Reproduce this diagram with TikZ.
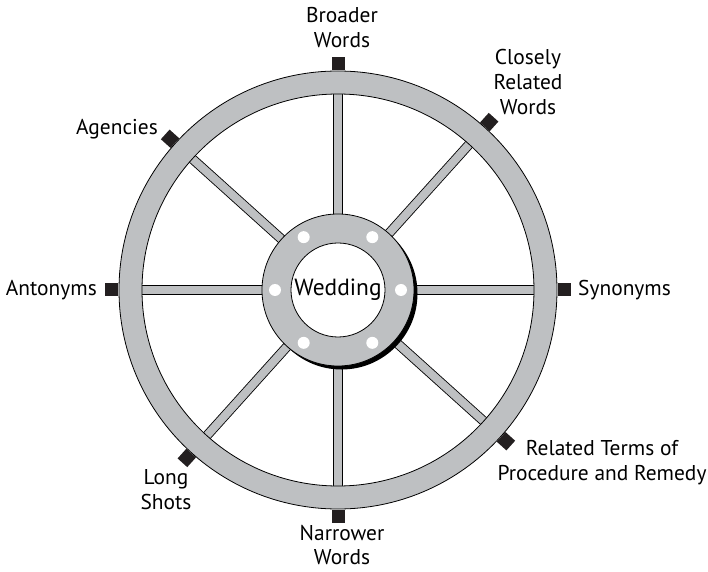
\documentclass[tikz,border=0pt]{standalone}
\usepackage{fontspec}
\setmainfont{PT Sans}
\usepackage{xcolor}
\usepackage{tikz}
\usetikzlibrary{positioning}
\definecolor{wheelgray}{RGB}{190, 192, 194}
\definecolor{markblack}{RGB}{35, 31, 32}

\begin{document}
\begin{tikzpicture}[
    x=1bp, y=1bp,
    rim/.style={draw=black, line width=0.8pt, fill=wheelgray, even odd rule},
    spoke/.style={draw=black, line width=0.7pt, fill=wheelgray},
    marker/.style={fill=markblack, minimum size=13bp, inner sep=0pt, outer sep=0pt},
    hole/.style={fill=white, draw=none},
    lbl/.style={font=\fontsize{21.5}{25}\selectfont, align=center, inner sep=0pt}
]
    \useasboundingbox (-338,-282) rectangle (370,290);

    % spokes
    \foreach \a in {0, 48, 90, 138, 180, 228, 270, 318}
        \draw[spoke, rotate=\a] (60,-4.5) rectangle (205,4.5);

    % rim
    \path[rim] (0,0) circle (219bp) (0,0) circle (196bp);

    % markers on the rim
    \foreach \a/\n in {0/syn, 48/close, 90/broad, 138/agen, 180/ant, 228/long, 270/narrow, 318/rel}
        \node[marker, rotate=\a] (m\n) at (\a:226) {};

    % hub with shadow
    \fill[black] (3.5,-3.5) circle (76bp);
    \draw[rim] (0,0) circle (76bp);
    \draw[line width=0.8pt, fill=white] (0,0) circle (47bp);
    \foreach \a in {0, 57, 123, 180, 237, 303}
        \fill[hole] (\a:63) circle (6bp);

    \node[lbl, font=\fontsize{23.5}{25}\selectfont] (hub) at (0,0) {Wedding};

    % labels
    \node[lbl] (broad) at (4,262) {Broader\\Words};
    \node[lbl] (close) at (190,208) {Closely\\Related\\Words};
    \node[lbl] (agen) at (-221,161) {Agencies};
    \node[lbl, anchor=east] (ant) at (-241,0) {Antonyms};
    \node[lbl, anchor=west] (syn) at (240,0) {Synonyms};
    \node[lbl] (rel) at (264,-173) {Related Terms of\\Procedure and Remedy};
    \node[lbl] (long) at (-172,-200) {Long\\Shots};
    \node[lbl] (narrow) at (4,-255) {Narrower\\Words};
\end{tikzpicture}
\end{document}
